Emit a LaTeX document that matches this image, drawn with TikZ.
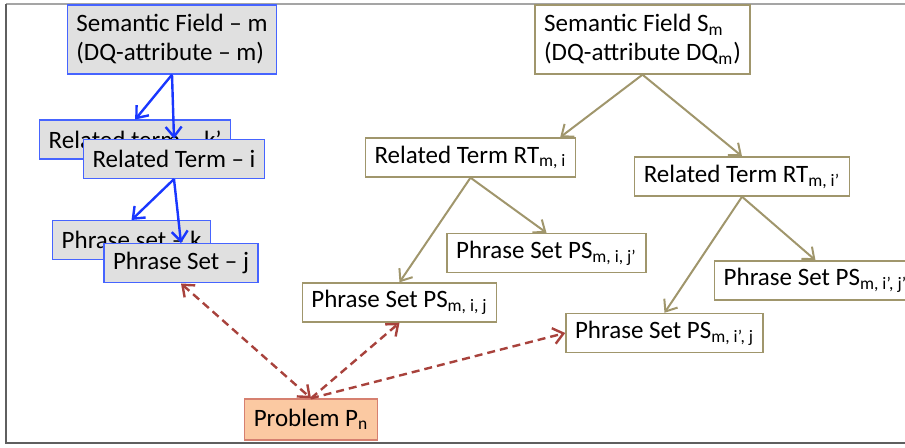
\documentclass[tikz,border=0pt]{standalone}
\usepackage{fontspec}
\setmainfont{Carlito}
\usepackage{xcolor}
\usepackage{tikz}
\usetikzlibrary{arrows.meta, positioning}

\definecolor{boxblue}{RGB}{70,100,255}
\definecolor{arrblue}{RGB}{25,55,255}
\definecolor{boxgray}{RGB}{224,224,224}
\definecolor{olive}{RGB}{160,150,108}
\definecolor{peach}{RGB}{251,201,162}
\definecolor{peachline}{RGB}{214,128,112}
\definecolor{dashred}{RGB}{168,66,60}
\definecolor{framelight}{RGB}{165,165,165}
\definecolor{framedark}{RGB}{95,95,95}

\begin{document}
\begin{tikzpicture}[
  x=0.5pt, y=-0.5pt,
  font=\fontsize{12.5}{14.5}\selectfont,
  >={Straight Barb[length=5pt,width=8pt]},
  gbox/.style={draw=boxblue, fill=boxgray, line width=0.7pt, align=left,
               minimum height=19.5pt, inner xsep=4.5pt, inner ysep=2pt},
  obox/.style={draw=olive, fill=white, line width=0.7pt, align=left,
               minimum height=19.5pt, inner xsep=4.5pt, inner ysep=2pt},
  pbox/.style={draw=peachline, fill=peach, line width=0.7pt, align=left,
               minimum height=20.5pt, inner xsep=4.5pt, inner ysep=2pt},
  two/.style={minimum height=34.5pt},
  barr/.style={->, draw=arrblue, line width=1.2pt},
  oarr/.style={->, draw=olive, line width=1pt},
  darr/.style={->, draw=dashred, line width=1.2pt, dash pattern=on 4pt off 2.5pt}
]
\useasboundingbox (0,0) rectangle (905,448);
\draw[framelight, line width=1pt] (6,4) -- (905,4);
\draw[framedark, line width=1pt] (6,4) -- (6,443) -- (905,443);

\node[gbox, two] (sfm) at (172,39.5) {Semantic Field -- m\\(DQ-attribute -- m)};
\node[gbox, anchor=north west] (rtk) at (39,119.5) {Related term -- k’};
\node[gbox, below=32pt of sfm, xshift=1pt] (rti) {Related Term -- i};
\node[gbox, anchor=north west] (psk) at (52,220) {Phrase set -- k};
\node[gbox, below=32pt of rti, xshift=3.5pt] (psj) {Phrase Set -- j};

\node[obox, two] (sm) at (642.5,39.5) {Semantic Field S\textsubscript{m}\\(DQ-attribute DQ\textsubscript{m})};
\node[obox] (rtmi) at (470.5,157.5) {Related Term RT\textsubscript{m, i}};
\node[obox] (rtmip) at (742,176.5) {Related Term RT\textsubscript{m, i’}};
\node[obox] (psmijp) at (546.5,253) {Phrase Set PS\textsubscript{m, i, j’}};
\node[obox] (psmij) at (399.5,302.5) {Phrase Set PS\textsubscript{m, i, j}};
\node[obox, anchor=west] (psmipjp) at (714,280.5) {Phrase Set PS\textsubscript{m, i’, j’}};
\node[obox] (psmipj) at (664.5,333) {Phrase Set PS\textsubscript{m, i’, j}};
\node[pbox] (prob) at (311,419.5) {Problem P\textsubscript{n}};

\draw[barr] (sfm.south) -- (rtk.north);
\draw[barr] (sfm.south) -- (rti.north);
\draw[barr] (rti.south) -- (psk.north);
\draw[barr] (rti.south) -- (psj.north);
\draw[oarr] (sm.south) -- ([xshift=-8pt]rtmi.north east);
\draw[oarr] (sm.south) -- (rtmip.north);
\draw[oarr] (rtmi.south) -- (psmij.north);
\draw[oarr] (rtmi.south) -- (psmijp.north);
\draw[oarr] (rtmip.south) -- (psmipj.north);
\draw[oarr] (rtmip.south) -- (psmipjp.north);
\draw[darr, <->] (psj.south) -- (prob.north);
\draw[darr] (prob.north) -- (psmij.south);
\draw[darr] (prob.north) -- (psmipj.west);
\end{tikzpicture}
\end{document}
